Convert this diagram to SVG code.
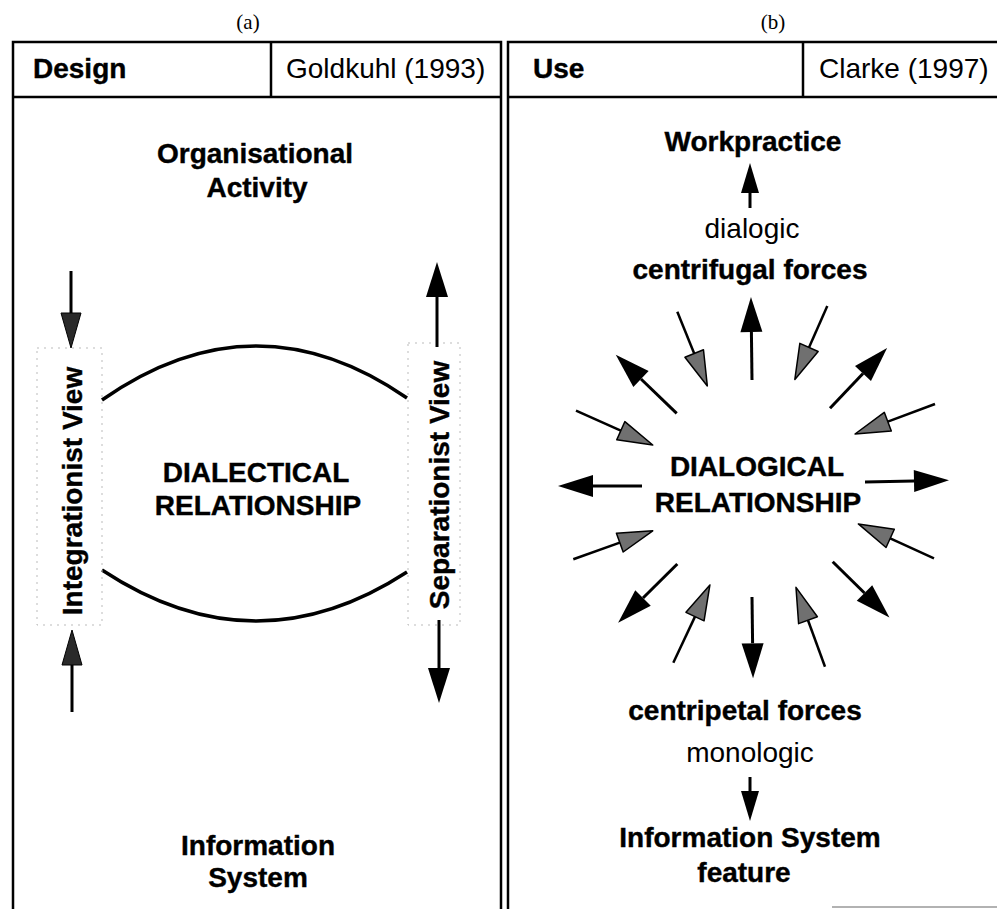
<svg xmlns="http://www.w3.org/2000/svg" width="997" height="909" viewBox="0 0 997 909">
<style>
.frame{stroke:#000;stroke-width:2.5;fill:none}
.t{font-family:"Liberation Sans",Arial,Helvetica,sans-serif;fill:#000}
.b{font-weight:bold;stroke:#000;stroke-width:0.4}
.big{font-size:28px}
.cap{font-family:"Liberation Serif","Times New Roman",serif;font-size:21px;fill:#000}
.shaft{stroke:#000;stroke-width:3;fill:none}
.thin{stroke:#000;stroke-width:2.5;fill:none}
.arc{stroke:#000;stroke-width:3.5;fill:none}
.box{stroke:#bbb;stroke-width:1;stroke-dasharray:2 5;fill:none}
</style>
<defs>
<marker id="hb" markerUnits="userSpaceOnUse" orient="auto" refX="0" refY="11" markerWidth="40" markerHeight="24" overflow="visible">
<path d="M0,0 L35,11 L0,22 Z" fill="#000"/>
</marker>
<marker id="hg" markerUnits="userSpaceOnUse" orient="auto" refX="0" refY="10" markerWidth="40" markerHeight="24" overflow="visible">
<path d="M0,0 L35,10 L0,20 Z" fill="#707070" stroke="#000" stroke-width="1.5" stroke-linejoin="round"/>
</marker>
<marker id="hd" markerUnits="userSpaceOnUse" orient="auto" refX="0" refY="10" markerWidth="40" markerHeight="24" overflow="visible">
<path d="M0,0 L35,10 L0,20 Z" fill="#2a2a2a" stroke="#000" stroke-width="1"/>
</marker>
<marker id="hs" markerUnits="userSpaceOnUse" orient="auto" refX="0" refY="9" markerWidth="34" markerHeight="20" overflow="visible">
<path d="M0,0 L30,9 L0,18 Z" fill="#000"/>
</marker>
</defs>

<text class="cap" x="248" y="29" text-anchor="middle">(a)</text>
<text class="cap" x="773" y="29" text-anchor="middle">(b)</text>

<g id="panel-a">
<path class="frame" d="M13,909 L13,42 L501,42 L501,909 M13,97 L501,97 M271,42 L271,97"/>
<text class="t b big" x="33" y="78">Design</text>
<text class="t big" x="286" y="78">Goldkuhl (1993)</text>
</g>

<g id="panel-b">
<path class="frame" d="M508,909 L508,42 L997,42 M508,97 L997,97 M803,42 L803,97"/>
<line x1="832" y1="907" x2="997" y2="907" stroke="#999" stroke-width="1.5"/>
<text class="t b big" x="533" y="78">Use</text>
<text class="t big" x="819" y="78">Clarke (1997)</text>
</g>

<g id="organisational-activity">
<text class="t b big" text-anchor="middle" x="255" y="163">Organisational</text>
<text class="t b big" text-anchor="middle" x="257" y="197">Activity</text>
</g>

<g id="information-system">
<text class="t b big" text-anchor="middle" x="258" y="855">Information</text>
<text class="t b big" text-anchor="middle" x="258" y="887">System</text>
</g>

<g id="dialectical-relationship">
<path class="arc" d="M102,400 Q255,293 407,398"/>
<path class="arc" d="M102,570 Q255,671 407,572"/>
<text class="t b big" text-anchor="middle" x="256" y="482">DIALECTICAL</text>
<text class="t b big" text-anchor="middle" x="258" y="515">RELATIONSHIP</text>
</g>

<g id="integrationist-view">
<rect class="box" x="37" y="348" width="65" height="277"/>
<text class="t b big" text-anchor="middle" transform="translate(82,491) rotate(-90)">Integrationist View</text>
</g>

<g id="separationist-view">
<rect class="box" x="408" y="343" width="52" height="282"/>
<text class="t b big" text-anchor="middle" transform="translate(449,485) rotate(-90)">Separationist View</text>
</g>

<g id="workpractice">
<text class="t b big" text-anchor="middle" x="753" y="151">Workpractice</text>
<text class="t big" text-anchor="middle" x="752" y="238">dialogic</text>
<text class="t b big" text-anchor="middle" x="750" y="279">centrifugal forces</text>
</g>

<g id="dialogical-relationship">
<text class="t b big" text-anchor="middle" x="757" y="476">DIALOGICAL</text>
<text class="t b big" text-anchor="middle" x="758" y="512">RELATIONSHIP</text>
</g>

<g id="is-feature">
<text class="t b big" text-anchor="middle" x="745" y="720">centripetal forces</text>
<text class="t big" text-anchor="middle" x="750" y="762">monologic</text>
<text class="t b big" text-anchor="middle" x="750" y="847">Information System</text>
<text class="t b big" text-anchor="middle" x="744" y="882">feature</text>
</g>

<g id="connectors">
<!-- left panel -->
<line class="shaft" x1="71" y1="271" x2="71" y2="313" marker-end="url(#hd)"/>
<line class="shaft" x1="72" y1="712" x2="72" y2="665" marker-end="url(#hd)"/>
<line class="shaft" x1="437" y1="347" x2="437" y2="297" marker-end="url(#hb)"/>
<line class="shaft" x1="439" y1="620" x2="439" y2="668" marker-end="url(#hb)"/>
<!-- right panel small -->
<line class="shaft" x1="750" y1="208" x2="750" y2="193" marker-end="url(#hs)"/>
<line class="shaft" x1="750" y1="777" x2="750" y2="791" marker-end="url(#hs)"/>
<!-- outward -->
<line class="shaft" x1="752" y1="380" x2="751.4" y2="332" marker-end="url(#hb)"/>
<line class="shaft" x1="676.7" y1="413.3" x2="641" y2="379" marker-end="url(#hb)"/>
<line class="shaft" x1="830" y1="408.3" x2="863" y2="373.5" marker-end="url(#hb)"/>
<line class="shaft" x1="642" y1="486" x2="593" y2="486" marker-end="url(#hb)"/>
<line class="shaft" x1="865" y1="482" x2="914" y2="481" marker-end="url(#hb)"/>
<line class="shaft" x1="677.3" y1="564" x2="643" y2="598" marker-end="url(#hb)"/>
<line class="shaft" x1="752" y1="597" x2="752.6" y2="643.3" marker-end="url(#hb)"/>
<line class="shaft" x1="832.7" y1="561.7" x2="864.5" y2="593" marker-end="url(#hb)"/>
<!-- inward -->
<line class="thin" x1="677.3" y1="311.7" x2="694.2" y2="353.5" marker-end="url(#hg)"/>
<line class="thin" x1="827.3" y1="306" x2="809" y2="347.4" marker-end="url(#hg)"/>
<line class="thin" x1="576" y1="410.7" x2="620.8" y2="430.7" marker-end="url(#hg)"/>
<line class="thin" x1="935" y1="404" x2="887.8" y2="421.7" marker-end="url(#hg)"/>
<line class="thin" x1="573.3" y1="559.3" x2="619.8" y2="542.6" marker-end="url(#hg)"/>
<line class="thin" x1="934" y1="558.3" x2="890.2" y2="538.4" marker-end="url(#hg)"/>
<line class="thin" x1="673.3" y1="662.7" x2="695" y2="616.6" marker-end="url(#hg)"/>
<line class="thin" x1="825" y1="666.7" x2="808" y2="620.2" marker-end="url(#hg)"/>
</g>
</svg>
